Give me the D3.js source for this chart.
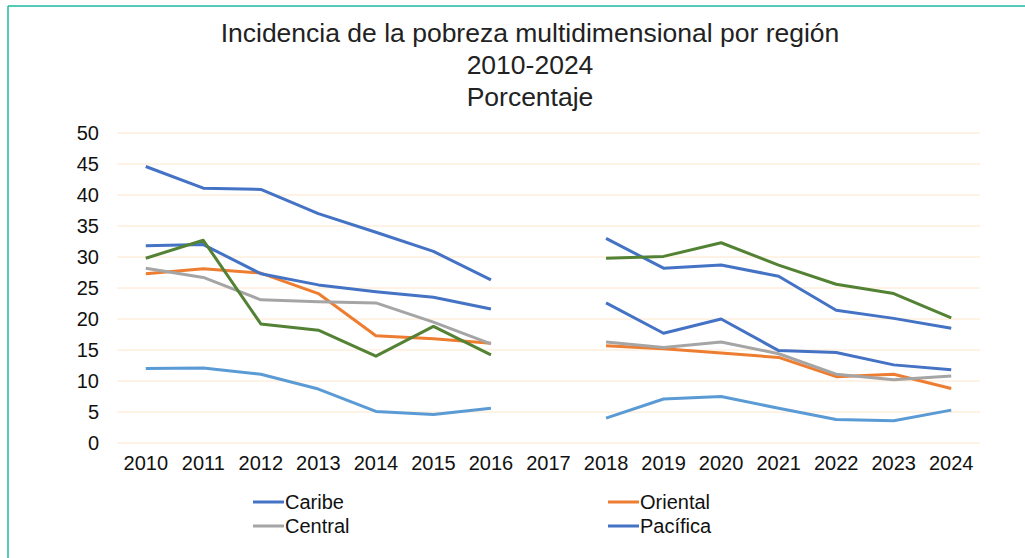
<!DOCTYPE html>
<html>
<head>
<meta charset="utf-8">
<script src="https://cdn.jsdelivr.net/npm/d3@7"></script>
<style>
  body { margin: 0; background: #fff; }
  svg { display: block; font-family: "Liberation Sans", Arial, sans-serif; }
</style>
</head>
<body>
<svg id="chart" width="1025" height="558"></svg>
<script>
// Data (2017 has no value)
const years = ["2010","2011","2012","2013","2014","2015","2016","2017","2018","2019","2020","2021","2022","2023","2024"];
const caribe    = [44.6, 41.1, 40.9, 37.0, 34.0, 30.9, 26.3, null, 33.0, 28.2, 28.7, 26.9, 21.4, 20.1, 18.5];
const oriental  = [27.3, 28.1, 27.4, 24.1, 17.3, 16.8, 16.1, null, 15.7, 15.2, 14.5, 13.8, 10.7, 11.1, 8.8];
const central   = [28.2, 26.7, 23.1, 22.8, 22.6, 19.5, 16.0, null, 16.3, 15.4, 16.3, 14.4, 11.1, 10.2, 10.8];
const pacifica  = [31.8, 32.0, 27.3, 25.5, 24.4, 23.5, 21.6, null, 22.6, 17.7, 20.0, 14.9, 14.6, 12.6, 11.8];
const bogota    = [12.0, 12.1, 11.1, 8.7, 5.1, 4.6, 5.6, null, 4.0, 7.1, 7.5, 5.6, 3.8, 3.6, 5.3];
const orinoquia = [29.8, 32.7, 19.2, 18.2, 14.0, 18.8, 14.2, null, 29.8, 30.1, 32.3, 28.7, 25.6, 24.1, 20.2];
const yTicks = [0, 5, 10, 15, 20, 25, 30, 35, 40, 45, 50];
const titleLines = ["Incidencia de la pobreza multidimensional por región", "2010-2024", "Porcentaje"];

const series = [
  { name: "Caribe", values: caribe, color: "#4472C4", legend: true },
  { name: "Oriental", values: oriental, color: "#ED7D31", legend: true },
  { name: "Central", values: central, color: "#A5A5A5", legend: true },
  { name: "Pacífica", values: pacifica, color: "#4472C4", legend: true },
  { name: "Bogotá", values: bogota, color: "#5B9BD5", legend: false },
  { name: "Orinoquía-Amazonía", values: orinoquia, color: "#548235", legend: false }
];

const svg = d3.select("#chart");

// Frame (teal border on top and left)
svg.append("line").attr("x1", 8).attr("y1", 6).attr("x2", 1025).attr("y2", 6)
  .attr("stroke", "#1DB9A0").attr("stroke-width", 1.5);
svg.append("line").attr("x1", 8).attr("y1", 6).attr("x2", 8).attr("y2", 558)
  .attr("stroke", "#1DB9A0").attr("stroke-width", 1.5);

// Title
svg.append("text")
  .attr("x", 530).attr("y", 42)
  .attr("text-anchor", "middle")
  .style("font-size", "26.5px").style("fill", "#222")
  .selectAll("tspan")
  .data(titleLines)
  .enter().append("tspan")
  .attr("x", 530)
  .attr("dy", (d, i) => i === 0 ? 0 : 32)
  .text(d => d);

// Scales
const x = d3.scaleBand().domain(years).range([117, 980]).padding(0);
const y = d3.scaleLinear().domain([0, 50]).range([443, 133]);

// Gridlines
svg.append("g")
  .selectAll("line")
  .data(yTicks)
  .enter().append("line")
  .attr("x1", 117).attr("x2", 980)
  .attr("y1", d => y(d)).attr("y2", d => y(d))
  .attr("stroke", "#FCE6C9").attr("stroke-width", 1);

// Y axis
const yAxis = svg.append("g")
  .attr("transform", "translate(99,0)")
  .call(d3.axisLeft(y).tickValues(yTicks).tickSize(0).tickPadding(0));
yAxis.select(".domain").remove();
yAxis.selectAll("text").style("font-size", "20px").style("fill", "#111")
  .style("font-family", "'Liberation Sans', Arial, sans-serif");

// X axis
const xAxis = svg.append("g")
  .attr("transform", "translate(0,443)")
  .call(d3.axisBottom(x).tickSize(0).tickPadding(13));
xAxis.select(".domain").remove();
xAxis.selectAll("text").style("font-size", "20px").style("fill", "#111")
  .style("font-family", "'Liberation Sans', Arial, sans-serif");

// Lines
const line = d3.line()
  .defined(d => d.v !== null)
  .x(d => x(d.year) + x.bandwidth() / 2)
  .y(d => y(d.v));

svg.append("g")
  .selectAll("path")
  .data(series)
  .enter().append("path")
  .attr("d", s => line(years.map((yr, i) => ({ year: yr, v: s.values[i] }))))
  .attr("fill", "none")
  .attr("stroke", s => s.color)
  .attr("stroke-width", 3)
  .attr("stroke-linejoin", "round");

// Legend
const legendItems = series.filter(s => s.legend);
const legend = svg.append("g")
  .selectAll("g")
  .data(legendItems)
  .enter().append("g")
  .attr("transform", (d, i) => `translate(${i % 2 === 0 ? 253 : 608},${i < 2 ? 502 : 526})`);

legend.append("line")
  .attr("x1", 0).attr("x2", 31)
  .attr("y1", 0).attr("y2", 0)
  .attr("stroke", d => d.color)
  .attr("stroke-width", 3);

legend.append("text")
  .attr("x", 32).attr("y", 0)
  .attr("dy", "0.35em")
  .style("font-size", "20px").style("fill", "#111")
  .text(d => d.name);
</script>
</body>
</html>
